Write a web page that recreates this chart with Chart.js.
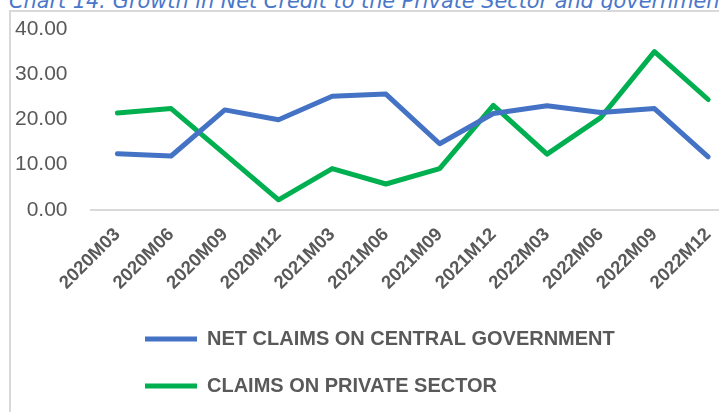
<!DOCTYPE html>
<html>
<head>
<meta charset="utf-8">
<script src="https://cdn.jsdelivr.net/npm/chart.js@4.4.1/dist/chart.umd.min.js"></script>
<style>
  html, body { margin: 0; padding: 0; background: #fff; overflow: hidden; }
  body { width: 719px; height: 412px; position: relative; }
  #title {
    position: absolute; left: 9px; top: -11px; white-space: nowrap;
    font-family: "DejaVu Sans", sans-serif; font-style: italic; font-size: 20.8px;
    color: #4a77c9;
  }
  #frame {
    position: absolute; left: 9px; top: 10px; width: 760px; height: 420px;
    border-left: 2px solid #d9d9d9; border-top: 2px solid #d9d9d9;
  }
  #wrap { position: absolute; left: 0; top: 0; width: 744px; height: 412px; }
</style>
</head>
<body>
<div id="title">Chart 14: Growth in Net Credit to the Private Sector and government</div>
<div id="frame"></div>
<div id="wrap"><canvas id="chart"></canvas></div>
<script>
// Quarterly periods
const periods = ['2020M03', '2020M06', '2020M09', '2020M12', '2021M03', '2021M06',
    '2021M09', '2021M12', '2022M03', '2022M06', '2022M09', '2022M12'];

// Growth rates, %
const netClaimsGovernment = [12.4, 11.9, 22.1, 19.9, 25.1, 25.6, 14.6, 21.3, 23.0, 21.5, 22.4, 11.7];
const claimsPrivateSector = [21.4, 22.4, 12.3, 2.2, 9.1, 5.7, 9.1, 23.1, 12.3, 20.4, 35.0, 24.4];

const yTicks = [0, 10, 20, 30, 40];

const textColor = '#595959';
const blue = '#4472C4';
const green = '#00B050';

// Put both legend rows on the same left edge, a bit higher up
const legendShift = {
    id: 'legendShift',
    afterLayout(chart) {
        chart.legend.left = 118;
        chart.legend.top -= 6;
    }
};

new Chart(document.getElementById('chart'), {
    type: 'line',
    data: {
        labels: periods,
        datasets: [
            {
                label: 'NET CLAIMS ON CENTRAL GOVERNMENT',
                data: netClaimsGovernment,
                borderColor: blue,
                backgroundColor: blue,
                borderWidth: 5,
                borderCapStyle: 'round',
                borderJoinStyle: 'round',
                pointRadius: 0,
                tension: 0
            },
            {
                label: 'CLAIMS ON PRIVATE SECTOR',
                data: claimsPrivateSector,
                borderColor: green,
                backgroundColor: green,
                borderWidth: 5,
                borderCapStyle: 'round',
                borderJoinStyle: 'round',
                pointRadius: 0,
                tension: 0
            }
        ]
    },
    options: {
        responsive: true,
        maintainAspectRatio: false,
        animation: false,
        layout: { autoPadding: false, padding: { left: 12, top: 29, right: 9, bottom: 0 } },
        plugins: {
            legend: {
                position: 'bottom',
                align: 'start',
                labels: {
                    usePointStyle: true,
                    pointStyle: 'line',
                    pointStyleWidth: 52,
                    padding: 27,
                    color: textColor,
                    font: { family: 'Liberation Sans', size: 20, weight: 'bold' }
                }
            },
            tooltip: { enabled: false }
        },
        scales: {
            x: {
                offset: true,
                grid: { display: false, drawTicks: false },
                border: { display: true, color: '#d9d9d9', width: 2 },
                ticks: {
                    color: textColor,
                    minRotation: 45,
                    maxRotation: 45,
                    padding: 14,
                    font: { family: 'Liberation Sans', size: 18.5, weight: 'bold' }
                }
            },
            y: {
                min: 0,
                max: 40,
                afterBuildTicks(axis) {
                    axis.ticks = yTicks.map(v => ({ value: v }));
                },
                // invisible tick marks give the gap between labels and plot
                grid: { display: true, drawOnChartArea: false, drawTicks: true, tickLength: 20, color: 'rgba(0,0,0,0)' },
                border: { display: false },
                ticks: {
                    color: textColor,
                    padding: 3,
                    font: { family: 'Liberation Sans', size: 21 },
                    callback: v => v.toFixed(2)
                }
            }
        }
    },
    plugins: [legendShift]
});
</script>
</body>
</html>
